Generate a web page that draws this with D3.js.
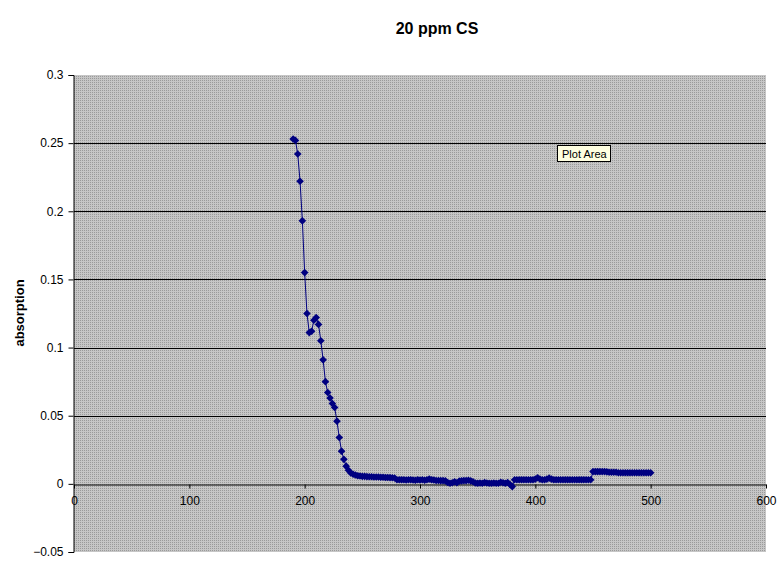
<!DOCTYPE html>
<html>
<head>
<meta charset="utf-8">
<script src="https://cdn.jsdelivr.net/npm/d3@7"></script>
<style>
  body { margin: 0; background: #fff; }
  text { font-family: "Liberation Sans", Arial, sans-serif; }
</style>
</head>
<body>
<div id="chart"></div>
<script>
// wavelength (nm) and absorption
var wavelength = [190,192,194,196,198,200,202,204,206,208,210,212,214,216,218,220,222,224,226,228,
  230,232,234,236,238,240,242,244,246,248,250,252,254,256,258,260,262,264,266,268,
  270,272,274,276,278,280,282,284,286,288,290,292,294,296,298,300,302,304,306,308,
  310,312,314,316,318,320,322,324,326,328,330,332,334,336,338,340,342,344,346,348,
  350,352,354,356,358,360,362,364,366,368,370,372,374,376,378,380,382,384,386,388,
  390,392,394,396,398,400,402,404,406,408,410,412,414,416,418,420,422,424,426,428,
  430,432,434,436,438,440,442,444,446,448,450,452,454,456,458,460,462,464,466,468,
  470,472,474,476,478,480,482,484,486,488,490,492,494,496,498,500];
var absorption = [0.253,0.252,0.242,0.222,0.193,0.155,0.125,0.111,0.112,0.120,0.122,0.117,0.105,0.091,0.075,0.067,0.063,0.059,0.056,0.046,
  0.034,0.024,0.018,0.013,0.010,0.008,0.007,0.0065,0.006,0.0058,0.0055,0.0055,0.0053,0.0052,0.0052,0.005,0.005,0.005,0.0048,0.0048,
  0.0047,0.0047,0.0046,0.0045,0.0043,0.003,0.003,0.003,0.003,0.0028,0.003,0.003,0.0028,0.0027,0.003,0.0028,0.003,0.0027,0.003,0.0035,
  0.003,0.0028,0.0025,0.0025,0.0024,0.0024,0.0022,0.001,0.0005,0.0008,0.0015,0.0008,0.002,0.0022,0.0024,0.0024,0.0026,0.0022,0.0015,0.0006,
  0.0004,0.0006,0.0005,0.001,0.0006,0.0005,0.0004,0.0006,0.0004,0.0005,0.0012,0.0008,0.0005,0.001,-0.0005,-0.002,0.003,0.003,0.003,0.003,
  0.003,0.003,0.003,0.003,0.003,0.0035,0.0045,0.0035,0.003,0.003,0.0035,0.0042,0.0035,0.003,0.003,0.003,0.003,0.003,0.003,0.003,
  0.003,0.003,0.003,0.003,0.003,0.003,0.003,0.003,0.003,0.003,0.009,0.009,0.009,0.009,0.009,0.009,0.0088,0.0085,0.0085,0.0085,
  0.0085,0.0082,0.0082,0.0082,0.0082,0.0082,0.0082,0.0082,0.0082,0.0082,0.0082,0.0082,0.0082,0.0082,0.0082,0.0082];
var xTicks = [0,100,200,300,400,500,600];
var yTicks = [-0.05,0,0.05,0.1,0.15,0.2,0.25,0.3];
var gridValues = [0.05,0.1,0.15,0.2,0.25];

var width = 781, height = 569;
var margin = {top: 75, right: 15, bottom: 17, left: 74};

var svg = d3.select("#chart").append("svg")
    .attr("width", width)
    .attr("height", height);

// dotted grey fill like the old excel plot area
var pat = svg.append("defs").append("pattern")
    .attr("id", "dots").attr("width", 2).attr("height", 2)
    .attr("patternUnits", "userSpaceOnUse");
pat.append("rect").attr("width", 2).attr("height", 2).attr("fill", "#c6c6c6");
pat.append("rect").attr("width", 1).attr("height", 1).attr("fill", "#9a9a9a");

var x = d3.scaleLinear().domain([0, 600]).range([margin.left, width - margin.right]);
var y = d3.scaleLinear().domain([-0.05, 0.3]).range([height - margin.bottom, margin.top]);

svg.append("rect")
    .attr("x", x(0)).attr("y", y(0.3))
    .attr("width", x(600) - x(0)).attr("height", y(-0.05) - y(0.3))
    .attr("fill", "url(#dots)");

// gridlines
svg.selectAll("line.grid")
    .data(gridValues)
    .join("line")
    .attr("class", "grid")
    .attr("x1", x(0)).attr("x2", x(600))
    .attr("y1", d => Math.round(y(d)) + 0.5).attr("y2", d => Math.round(y(d)) + 0.5)
    .attr("stroke", "#000").attr("stroke-width", 1);

// y axis
var yAxis = svg.append("g")
    .attr("transform", "translate(" + (x(0) - 0.5) + ",0)")
    .call(d3.axisLeft(y).tickValues(yTicks).tickSize(5).tickPadding(5)
      .tickFormat(d => d3.format("")(+d.toFixed(2))));
yAxis.selectAll("text").style("font-size", "12px").attr("fill", "#000");
yAxis.selectAll("line, path").attr("stroke", "#000");

// x axis crossing at 0
var xAxis = svg.append("g")
    .attr("transform", "translate(0," + (Math.round(y(0)) + 0.5) + ")")
    .call(d3.axisBottom(x).tickValues(xTicks).tickSize(4).tickSizeOuter(0).tickPadding(8));
xAxis.selectAll("text").style("font-size", "12px").attr("fill", "#000");
xAxis.selectAll("line, path").attr("stroke", "#000");

// data line
var pts = wavelength.map((w, i) => [w, absorption[i]]);
svg.append("path")
    .datum(pts)
    .attr("fill", "none")
    .attr("stroke", "#000080")
    .attr("stroke-width", 1)
    .attr("d", d3.line().x(d => x(d[0])).y(d => y(d[1])));

// diamond markers
svg.selectAll("path.marker")
    .data(pts)
    .join("path")
    .attr("class", "marker")
    .attr("transform", d => "translate(" + x(d[0]) + "," + y(d[1]) + ")")
    .attr("d", "M0,-3.8L3.8,0L0,3.8L-3.8,0Z")
    .attr("fill", "#000080");

// title
svg.append("text")
    .attr("x", 437).attr("y", 34)
    .attr("text-anchor", "middle")
    .style("font-size", "16px").style("font-weight", "bold")
    .text("20 ppm CS");

// y label
svg.append("text")
    .attr("transform", "translate(24,313) rotate(-90)")
    .attr("text-anchor", "middle")
    .style("font-size", "13px").style("font-weight", "bold")
    .text("absorption");

// tooltip box
svg.append("rect")
    .attr("x", 557.5).attr("y", 145.5).attr("width", 53).attr("height", 16)
    .attr("fill", "#ffffe1").attr("stroke", "#000");
svg.append("text")
    .attr("x", 562).attr("y", 158)
    .style("font-size", "11px")
    .text("Plot Area");
</script>
</body>
</html>
